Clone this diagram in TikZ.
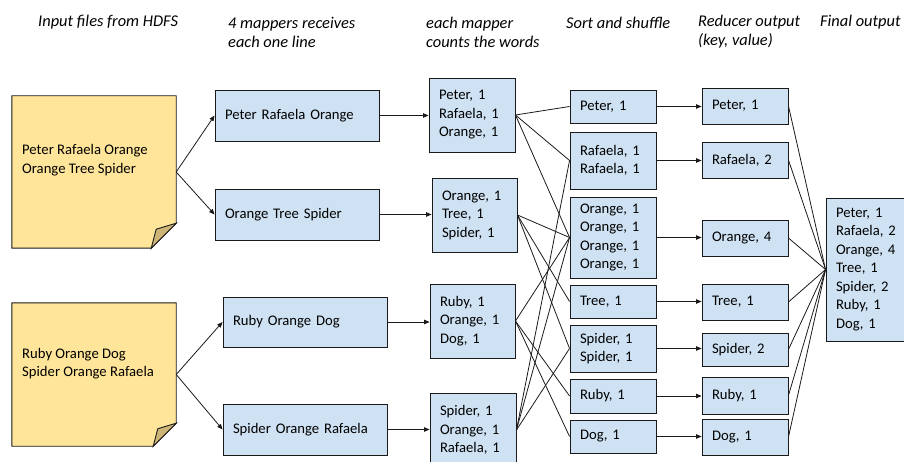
\documentclass[tikz,border=0pt]{standalone}
\usepackage{fontspec}
\setmainfont{Carlito}
\usetikzlibrary{arrows.meta}
\definecolor{boxblue}{HTML}{CFE2F3}
\definecolor{notey}{HTML}{FFE599}
\definecolor{notefold}{HTML}{CCB576}
\definecolor{edge}{HTML}{1A1A1A}
\begin{document}
\begin{tikzpicture}[x=1pt,y=-1pt,
  font=\fontsize{14.67}{18.5}\selectfont,
  box/.style={draw=edge, fill=boxblue, line width=0.9pt, inner xsep=10pt,
    inner ysep=0pt, align=left},
  notebg/.style={inner sep=0pt, minimum width=164pt},
  notetxt/.style={anchor=west, align=left, inner sep=0pt},
  title/.style={font=\fontsize{16.4}{19}\selectfont\itshape, anchor=west,
    align=left, inner sep=0pt},
  arr/.style={draw=edge, line width=0.8pt, -{Triangle[length=5.5pt,width=4.5pt]}},
  link/.style={draw=edge, line width=0.8pt}]

\useasboundingbox (0,0) rectangle (904,462);

% column headings
\node[title] (t1) at (38,22.5) {Input files from HDFS};
\node[title] (t2) at (228,32)  {4 mappers receives\\each one line};
\node[title] (t3) at (426,32)  {each mapper\\counts the words};
\node[title] (t4) at (566,22.5) {Sort and shuffle};
\node[title] (t5) at (698,32)  {Reducer output\\(key, value)};
\node[title] (t6) at (820,22.5) {Final output};

% input files (sticky notes with a folded corner)
\node[notebg, minimum height=152pt] (f1) at (94,172) {};
\node[notebg, minimum height=143pt] (f2) at (94,374.5) {};
\foreach \f/\c in {f1/25, f2/23}{
  \draw[edge, line width=0.9pt, fill=notey]
    (\f.north west) -- (\f.north east) -- ([yshift=\c pt]\f.south east)
    -- ([xshift=-\c pt]\f.south east) -- (\f.south west) -- cycle;
  \draw[edge, line width=0.9pt, fill=notefold]
    ([yshift=\c pt]\f.south east) -- ([xshift=-\c pt]\f.south east)
    -- ([xshift=-0.8*\c pt, yshift=0.76*\c pt]\f.south east) -- cycle;
}
\node[notetxt] (f1t) at (22,160)   {Peter Rafaela Orange\\Orange Tree Spider};
\node[notetxt] (f2t) at (22,363.5) {Ruby Orange Dog\\Spider Orange Rafaela};

% mappers
\node[box, text width=144pt, minimum height=51pt] (m1) at (297,115.5) {Peter Rafaela Orange};
\node[box, text width=144pt, minimum height=51pt] (m2) at (297,214.5) {Orange Tree Spider};
\node[box, text width=144pt, minimum height=50pt] (m3) at (305,322)   {Ruby Orange Dog};
\node[box, text width=144pt, minimum height=51pt] (m4) at (305,429.5) {Spider Orange Rafaela};

% word counts per mapper
\node[box, text width=66pt, minimum height=74pt] (c1) at (472,115)   {Peter, 1\\Rafaela, 1\\Orange, 1};
\node[box, text width=65pt, minimum height=74pt] (c2) at (474.5,215) {Orange, 1\\Tree, 1\\Spider, 1};
\node[box, text width=65pt, minimum height=74pt] (c3) at (472.5,321) {Ruby, 1\\Orange, 1\\Dog, 1};
\node[box, text width=66pt, minimum height=74pt] (c4) at (473,430)   {Spider, 1\\Orange, 1\\Rafaela, 1};

% sort and shuffle
\node[box, text width=66pt, minimum height=33pt] (s1) at (613,106.5) {Peter, 1};
\node[box, text width=66pt, minimum height=57pt] (s2) at (613,160.5) {Rafaela, 1\\Rafaela, 1};
\node[box, text width=66pt, minimum height=81pt] (s3) at (613,237.5) {Orange, 1\\Orange, 1\\Orange, 1\\Orange, 1};
\node[box, text width=66pt, minimum height=33pt] (s4) at (613,301.5) {Tree, 1};
\node[box, text width=66pt, minimum height=47pt] (s5) at (613,348.5) {Spider, 1\\Spider, 1};
\node[box, text width=66pt, minimum height=34pt] (s6) at (613,396)   {Ruby, 1};
\node[box, text width=66pt, minimum height=33pt] (s7) at (613,436.5) {Dog, 1};

% reducer output
\node[box, text width=66pt, minimum height=36pt] (r1) at (745,106)   {Peter, 1};
\node[box, text width=66pt, minimum height=36pt] (r2) at (745,160)   {Rafaela, 2};
\node[box, text width=66pt, minimum height=36pt] (r3) at (745,238)   {Orange, 4};
\node[box, text width=66pt, minimum height=36pt] (r4) at (745,302)   {Tree, 1};
\node[box, text width=66pt, minimum height=33pt] (r5) at (745,349.5) {Spider, 2};
\node[box, text width=66pt, minimum height=37pt] (r6) at (745,395.5) {Ruby, 1};
\node[box, text width=66pt, minimum height=36pt] (r7) at (745,437)   {Dog, 1};

% final output
\node[box, inner xsep=10pt, text width=58pt, minimum height=143pt] (fin) at (865,269.5)
  {Peter,~1\\Rafaela,~2\\Orange,~4\\Tree,~1\\Spider,~2\\Ruby,~1\\Dog,~1};

% files to mappers
\draw[arr] (f1.east) -- (m1.west);
\draw[arr] (f1.east) -- (m2.west);
\draw[arr] (f2.east) -- (m3.west);
\draw[arr] (f2.east) -- (m4.west);

% mappers to counts
\foreach \i in {1,...,4}
  \draw[arr] (m\i.east) -- (m\i.east -| c\i.west);

% shuffle
\foreach \s in {1,2,3} \draw[link] (c1.east) -- (s\s.west);
\foreach \s in {3,4,5} \draw[link] (c2.east) -- (s\s.west);
\foreach \s in {6,3,7} \draw[link] (c3.east) -- (s\s.west);
\foreach \s in {5,3,2} \draw[link] (c4.east) -- (s\s.west);

% reduce
\foreach \i in {1,...,7}
  \draw[arr] (s\i.east) -- (s\i.east -| r\i.west);

% collect
\foreach \i in {1,...,7}
  \draw[link] (r\i.east) -- (fin.west);
\end{tikzpicture}
\end{document}
